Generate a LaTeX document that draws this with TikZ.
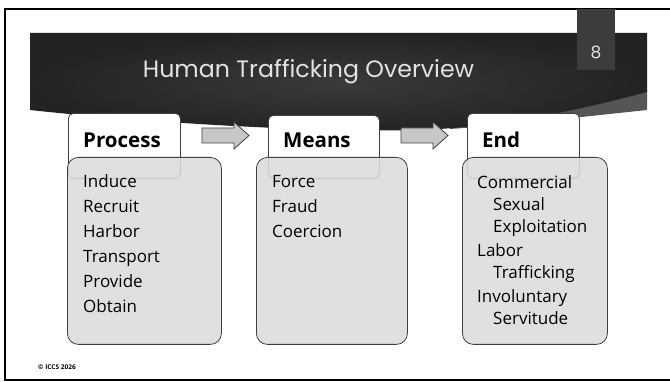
\documentclass[tikz,border=0pt]{standalone}
\usepackage{fontspec}
\setmainfont{Open Sans}
\newfontfamily\titlefont{Poppins}
\usetikzlibrary{positioning}
\definecolor{banner}{HTML}{232323}
\definecolor{bannermid}{HTML}{3A3A3A}
\definecolor{bannerlip}{HTML}{555555}
\definecolor{pagebox}{HTML}{3C3C3C}
\definecolor{listgray}{HTML}{DCDCDC}
\definecolor{titlegray}{HTML}{E2E2E2}

\tikzset{
  headbox/.style={draw=black!75, line width=0.8pt, fill=white, rounded corners=5pt,
    anchor=north west, inner sep=0pt, minimum width=112pt, minimum height=65pt},
  listbox/.style={draw=black!75, line width=0.8pt, fill=listgray, fill opacity=0.88,
    rounded corners=11pt, anchor=north west, inner sep=0pt, minimum height=187pt},
  headtext/.style={anchor=base west, inner sep=0pt, font=\fontsize{20.5}{24}\selectfont\bfseries},
  itemtext/.style={anchor=base west, inner sep=0pt, font=\fontsize{17}{20}\selectfont},
  flowarrow/.style={draw=black!75, line width=0.8pt, fill=black!22},
}

\begin{document}
\begin{tikzpicture}[x=1pt,y=-1pt]
\useasboundingbox (0,0) rectangle (670,382);
\clip (0,0) rectangle (670,382);
% frame
\draw[line width=2pt] (5,9) rectangle (700,380);
% title banner
\fill[bannerlip] (647,90) -- (647,110) .. controls (590,116) and (520,124) .. (450,129) -- (450,118) -- cycle;
\shade[inner color=bannermid, outer color=banner] (30,33) -- (647,33) -- (647,92)
  .. controls (580,110) and (500,127) .. (420,130)
  .. controls (300,133) and (120,120) .. (30,110) -- cycle;
\fill[pagebox] (577,9) rectangle (615,70);
\node[font=\titlefont\fontsize{17}{20}\selectfont, text=titlegray] (pnum) at (596,52) {8};
\node[font=\titlefont\fontsize{23.7}{28}\selectfont, text=titlegray, anchor=base] (title) at (308.5,78) {Human Trafficking Overview};
% headers
\node[headbox] (proc) at (68,113) {};
\node[headbox, minimum width=111pt, minimum height=63pt] (means) at (268,115) {};
\node[headbox] (end) at (467,113) {};
\node[headtext] (proct) at (83,148) {Process};
\node[headtext] (meanst) at (283,148) {Means};
\node[headtext] (endt) at (482,148) {End};
% arrows
\draw[flowarrow] (202,128) -- (234,128) -- (234,122) -- (249,135.5) -- (234,149) -- (234,143) -- (202,143) -- cycle;
\draw[flowarrow] (401,128) -- (433,128) -- (433,122) -- (448,135.5) -- (433,149) -- (433,143) -- (401,143) -- cycle;
% lists
\node[listbox, minimum width=154pt] (procl) at (67,157) {};
\node[listbox, minimum width=151pt] (meansl) at (256,157) {};
\node[listbox, minimum width=145pt] (endl) at (462,157) {};
\foreach \txt/\y in {Induce/188, Recruit/213, Harbor/238, Transport/263, Provide/288, Obtain/313}
  \node[itemtext] at (83,\y) {\txt};
\foreach \txt/\y in {Force/188, Fraud/213, Coercion/238}
  \node[itemtext] at (272,\y) {\txt};
\foreach \txt/\x/\y in {Commercial/477/189, Sexual/493/211, Exploitation/493/233, Labor/477/257,
    Trafficking/493/279, Involuntary/477/303, Servitude/493/325}
  \node[itemtext] at (\x,\y) {\txt};
% footer
\node[font=\fontsize{6.5}{8}\selectfont\bfseries, anchor=west, inner sep=0pt] (copy) at (38,367) {© ICCS 2026};
\end{tikzpicture}
\end{document}
